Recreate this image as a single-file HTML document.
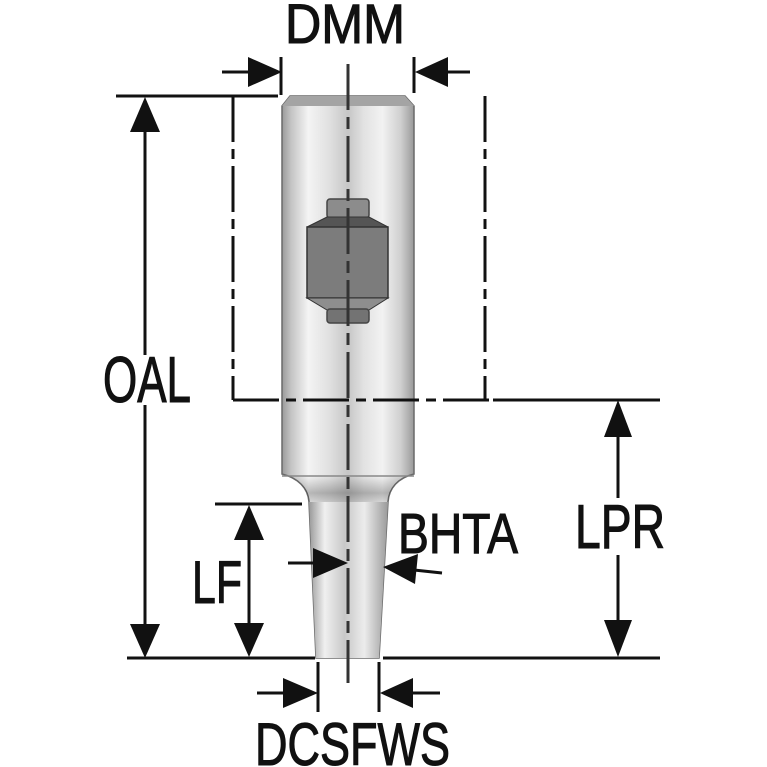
<!DOCTYPE html>
<html><head><meta charset="utf-8"><style>
html,body{margin:0;padding:0;background:#fff;}
svg{display:block;}
text{font-family:"Liberation Sans",sans-serif;fill:#111;stroke:#111;stroke-width:1.1;}
</style></head><body>
<svg width="767" height="767" viewBox="0 0 767 767" xmlns="http://www.w3.org/2000/svg">
<defs>
<linearGradient id="g" gradientUnits="userSpaceOnUse" x1="282" y1="0" x2="414" y2="0">
<stop offset="0" stop-color="#9a9a9a"/>
<stop offset="0.07" stop-color="#c4c4c4"/>
<stop offset="0.2" stop-color="#f4f4f4"/>
<stop offset="0.36" stop-color="#e0e0e0"/>
<stop offset="0.5" stop-color="#c6c6c6"/>
<stop offset="0.62" stop-color="#e2e2e2"/>
<stop offset="0.76" stop-color="#f2f2f2"/>
<stop offset="0.9" stop-color="#cfcfcf"/>
<stop offset="1" stop-color="#999"/>
</linearGradient>
<linearGradient id="gt" gradientUnits="userSpaceOnUse" x1="309" y1="0" x2="388" y2="0">
<stop offset="0" stop-color="#999"/>
<stop offset="0.2" stop-color="#f0f0f0"/>
<stop offset="0.45" stop-color="#c8c8c8"/>
<stop offset="0.7" stop-color="#ececec"/>
<stop offset="1" stop-color="#9a9a9a"/>
</linearGradient>
<linearGradient id="gn" gradientUnits="userSpaceOnUse" x1="0" y1="476" x2="0" y2="510">
<stop offset="0" stop-color="#000" stop-opacity="0"/>
<stop offset="0.5" stop-color="#000" stop-opacity="0.25"/>
<stop offset="1" stop-color="#000" stop-opacity="0"/>
</linearGradient>
</defs>

<!-- tool body -->
<path d="M290,96 L405,96 L414,106 L414,474 C398,478 389,488 388,502 L379,658 L316,658 L309,502 C308,488 298,478 282,474 L282,106 Z" fill="url(#g)" stroke="#6a6a6a" stroke-width="1.5"/>
<path d="M309,502 L388,502 L379,658 L316,658 Z" fill="url(#gt)"/>
<path d="M282,474 C298,478 308,488 309,502 L388,502 C389,488 398,478 414,474 Z" fill="url(#gn)"/>
<polygon points="290,96 405,96 414,106 282,106" fill="#a4a4a4"/>
<line x1="282" y1="476" x2="414" y2="476" stroke="#888" stroke-width="1.5"/>

<!-- screw -->
<rect x="327" y="199" width="42" height="19" rx="3" fill="#8c8c8c" stroke="#444" stroke-width="1.5"/>
<polygon points="327,217 369,217 388,227 307,227" fill="#555" stroke="#333" stroke-width="1"/>
<rect x="307" y="227" width="81" height="71" fill="#7c7c7c" stroke="#333" stroke-width="1.5"/>
<polygon points="307,298 388,298 369,310 327,310" fill="#8e8e8e" stroke="#333" stroke-width="1"/>
<rect x="327" y="309" width="42" height="14" rx="3" fill="#737373" stroke="#444" stroke-width="1.5"/>

<!-- dash-dot envelope -->
<g stroke="#111" stroke-width="3" fill="none" stroke-dasharray="46 7 10 7">
<line x1="233" y1="96" x2="233" y2="400"/>
<line x1="485" y1="96" x2="485" y2="400"/>
<line x1="233" y1="400" x2="490" y2="400"/>
</g>

<!-- center line -->
<line x1="348" y1="64" x2="348" y2="683" stroke="#333" stroke-width="3" stroke-dasharray="46 7 12 7"/>

<!-- solid dimension lines -->
<g stroke="#111" stroke-width="3" fill="none">
<line x1="116" y1="96" x2="278" y2="96"/>
<line x1="493" y1="400" x2="660" y2="400"/>
<line x1="127" y1="658" x2="315" y2="658"/>
<line x1="383" y1="658" x2="660" y2="658"/>
<line x1="215" y1="504" x2="302" y2="504"/>
<line x1="145" y1="120" x2="145" y2="355"/>
<line x1="145" y1="405" x2="145" y2="635"/>
<line x1="249" y1="530" x2="249" y2="630"/>
<line x1="618" y1="430" x2="618" y2="498"/>
<line x1="618" y1="555" x2="618" y2="630"/>
<line x1="222" y1="72" x2="250" y2="72"/>
<line x1="281" y1="57" x2="281" y2="95"/>
<line x1="414" y1="57" x2="414" y2="93"/>
<line x1="446" y1="72" x2="470" y2="72"/>
<line x1="288" y1="563" x2="315" y2="563"/>
<line x1="414" y1="570" x2="442" y2="573"/>
<line x1="318" y1="662" x2="318" y2="712"/>
<line x1="379" y1="662" x2="379" y2="712"/>
<line x1="257" y1="693" x2="285" y2="693"/>
<line x1="411" y1="693" x2="440" y2="693"/>
</g>

<!-- arrowheads -->
<g fill="#111">
<polygon points="145,97 130,132 160,132"/>
<polygon points="145,658 130,624 160,624"/>
<polygon points="249,505 234,540 264,540"/>
<polygon points="249,657 234,623 264,623"/>
<polygon points="618,400 604,437 632,437"/>
<polygon points="618,657 604,620 632,620"/>
<polygon points="282,72 248,57 248,87"/>
<polygon points="415,72 448,57 448,87"/>
<polygon points="348,563 313,548 313,578"/>
<polygon points="383,567 418,554 415,584"/>
<polygon points="318,693 283,678 283,708"/>
<polygon points="380,693 413,678 413,708"/>
</g>

<!-- labels -->
<text x="285" y="43" font-size="56" textLength="120" lengthAdjust="spacingAndGlyphs">DMM</text>
<text x="103" y="402" font-size="65" textLength="88" lengthAdjust="spacingAndGlyphs">OAL</text>
<text x="192" y="603" font-size="60" textLength="50" lengthAdjust="spacingAndGlyphs">LF</text>
<text x="398" y="553" font-size="57" textLength="120" lengthAdjust="spacingAndGlyphs">BHTA</text>
<text x="575" y="548" font-size="62" textLength="90" lengthAdjust="spacingAndGlyphs">LPR</text>
<text x="255" y="765" font-size="60" textLength="195" lengthAdjust="spacingAndGlyphs">DCSFWS</text>
</svg>
</body></html>
